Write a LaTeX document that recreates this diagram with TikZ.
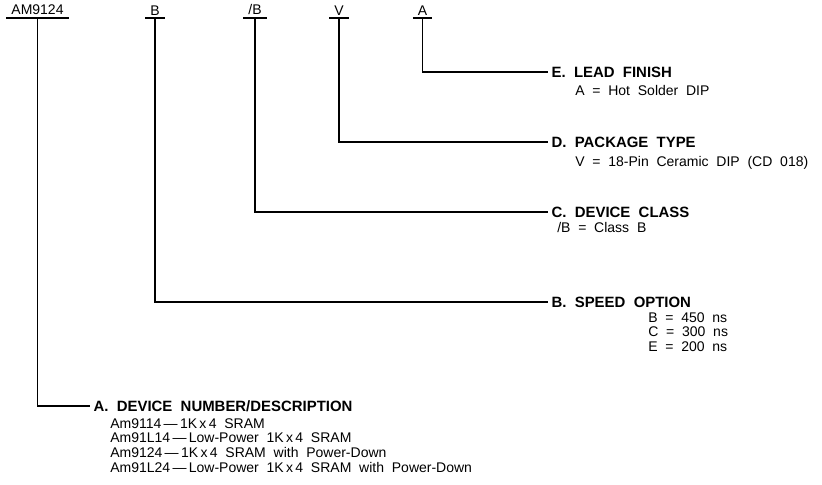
\documentclass[tikz,border=0pt]{standalone}
\usepackage{fontspec}
\setmainfont{Liberation Sans}[WordSpace=2]
\usetikzlibrary{positioning}

\tikzset{
  partlbl/.style={anchor=south, inner xsep=3.5pt, inner ysep=2pt, font=\fontsize{10.5}{12}\selectfont},
  fieldhead/.style={anchor=west, inner xsep=2.5pt, inner ysep=0pt, text depth=0pt, font=\bfseries\fontsize{11.2}{13}\selectfont},
  fielddesc/.style={anchor=north west, inner sep=0pt, align=left, font=\fontsize{10.5}{11}\selectfont},
  leader/.style={line width=1pt},
}

\begin{document}
\begin{tikzpicture}[x=0.75pt,y=0.75pt,yscale=-1,xscale=1]
\useasboundingbox (0,0) rectangle (822,485);

% Text Node
\node [partlbl] (lblDev) at (37.5,18) {AM9124};
% Text Node
\node [partlbl] (lblSpd) at (155,18) {B};
% Text Node
\node [partlbl] (lblCls) at (255,18) {/B};
% Text Node
\node [partlbl] (lblPkg) at (339,18) {V};
% Text Node
\node [partlbl] (lblLead) at (422.5,18) {A};

% Text Node
\node [fieldhead] (headLead) at (548,72) {E. LEAD FINISH};
% Text Node
\node [fieldhead] (headPkg) at (548,142) {D. PACKAGE TYPE};
% Text Node
\node [fieldhead] (headCls) at (548,212) {C. DEVICE CLASS};
% Text Node
\node [fieldhead] (headSpd) at (548,302) {B. SPEED OPTION};
% Text Node
\node [fieldhead] (headDev) at (90,406) {A. DEVICE NUMBER/DESCRIPTION};

% Text Node
\node [fielddesc] (descLead) at (575,85) {A = Hot Solder DIP};
% Text Node
\node [fielddesc] (descPkg) at (575,156) {V = 18-Pin Ceramic DIP (CD 018)};
% Text Node
\node [fielddesc] (descCls) at (557,222) {/B = Class B};
% Text Node
\node [fielddesc] (descSpd) at (648,312) {B = 450 ns\\C = 300 ns\\E = 200 ns};
% Text Node
\node [fielddesc] (descDev) at (110,418) {Am9114\,—\,1K\,x\,4 SRAM\\Am91L14\,—\,Low-Power 1K\,x\,4 SRAM\\Am9124\,—\,1K\,x\,4 SRAM with Power-Down\\Am91L24\,—\,Low-Power 1K\,x\,4 SRAM with Power-Down};

%Straight Lines
\foreach \lbl in {lblDev,lblSpd,lblCls,lblPkg,lblLead}
  \draw [leader] (\lbl.south west) -- (\lbl.south east);

%Straight Lines
\draw [leader] (lblLead.south) |- (headLead.west);
%Straight Lines
\draw [leader] (lblPkg.south) |- (headPkg.west);
%Straight Lines
\draw [leader] (lblCls.south) |- (headCls.west);
%Straight Lines
\draw [leader] (lblSpd.south) |- (headSpd.west);
%Straight Lines
\draw [leader] (lblDev.south) |- (headDev.west);

\end{tikzpicture}
\end{document}
